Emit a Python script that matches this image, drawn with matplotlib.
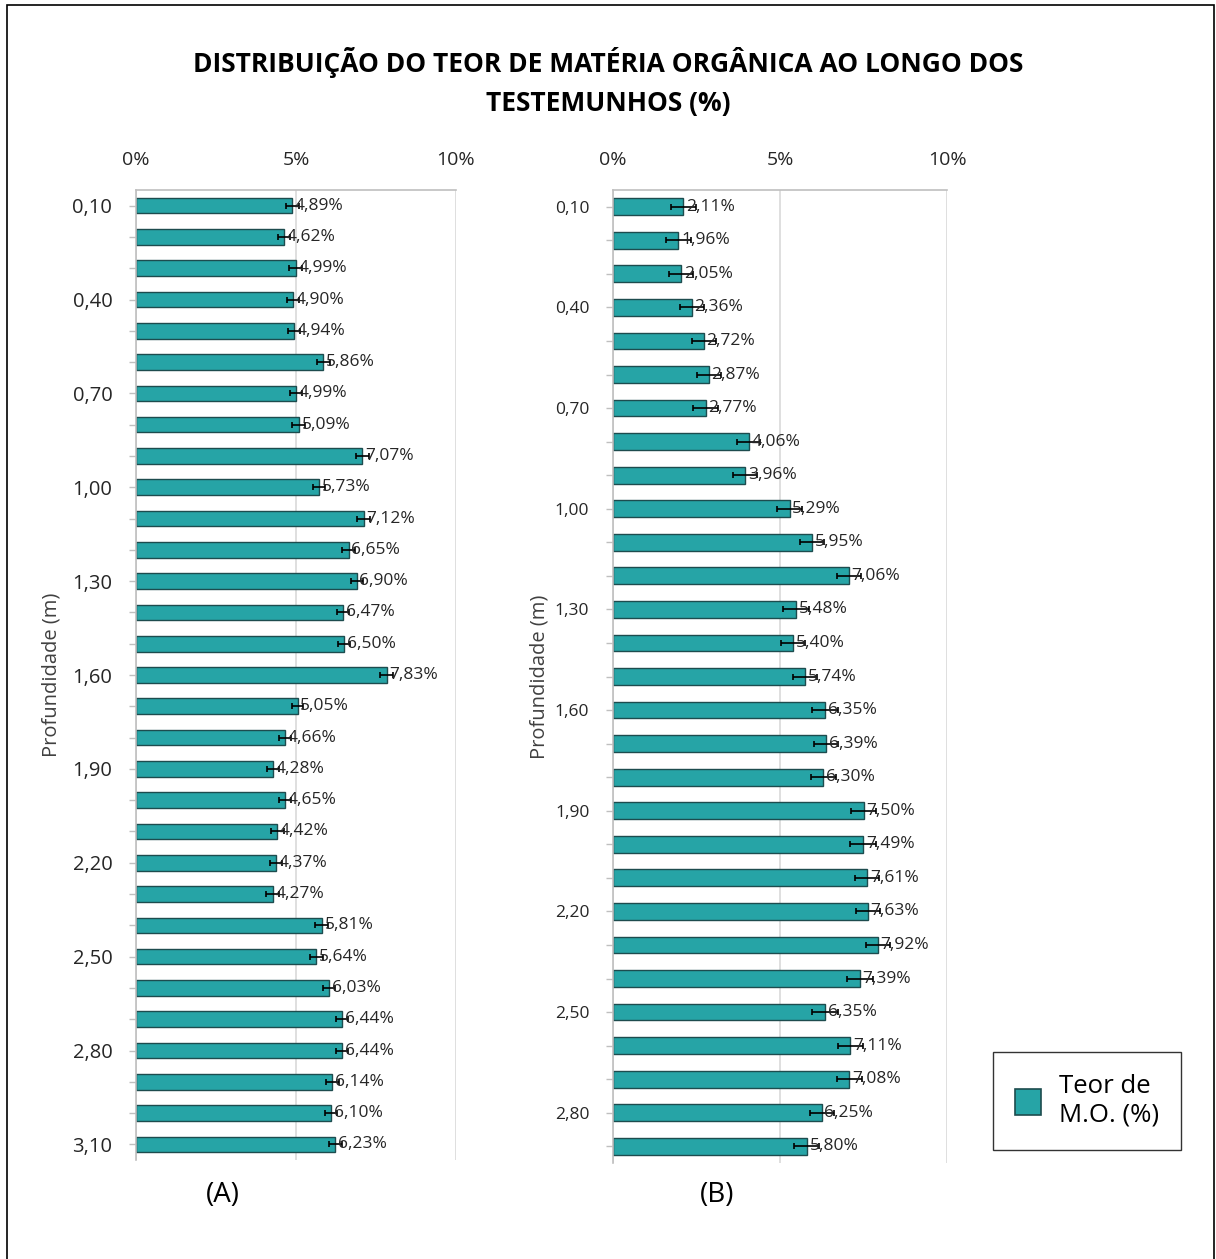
import matplotlib.pyplot as plt
from matplotlib.patches import Rectangle, Patch

plt.rcParams['font.family'] = ['Open Sans', 'DejaVu Sans']

# Testemunho A: 0,10 m a 3,10 m
depth_a = [0.10, 0.20, 0.30, 0.40, 0.50, 0.60, 0.70, 0.80, 0.90, 1.00,
           1.10, 1.20, 1.30, 1.40, 1.50, 1.60, 1.70, 1.80, 1.90, 2.00,
           2.10, 2.20, 2.30, 2.40, 2.50, 2.60, 2.70, 2.80, 2.90, 3.00, 3.10]
mo_a = [4.89, 4.62, 4.99, 4.90, 4.94, 5.86, 4.99, 5.09, 7.07, 5.73,
        7.12, 6.65, 6.90, 6.47, 6.50, 7.83, 5.05, 4.66, 4.28, 4.65,
        4.42, 4.37, 4.27, 5.81, 5.64, 6.03, 6.44, 6.44, 6.14, 6.10, 6.23]
err_a = [0.20, 0.18, 0.20, 0.19, 0.20, 0.20, 0.19, 0.20, 0.20, 0.19,
         0.20, 0.20, 0.19, 0.20, 0.19, 0.20, 0.18, 0.19, 0.20, 0.19,
         0.20, 0.19, 0.20, 0.20, 0.19, 0.20, 0.19, 0.20, 0.20, 0.19, 0.20]

# Testemunho B: 0,10 m a 2,90 m
depth_b = [0.10, 0.20, 0.30, 0.40, 0.50, 0.60, 0.70, 0.80, 0.90, 1.00,
           1.10, 1.20, 1.30, 1.40, 1.50, 1.60, 1.70, 1.80, 1.90, 2.00,
           2.10, 2.20, 2.30, 2.40, 2.50, 2.60, 2.70, 2.80, 2.90]
mo_b = [2.11, 1.96, 2.05, 2.36, 2.72, 2.87, 2.77, 4.06, 3.96, 5.29,
        5.95, 7.06, 5.48, 5.40, 5.74, 6.35, 6.39, 6.30, 7.50, 7.49,
        7.61, 7.63, 7.92, 7.39, 6.35, 7.11, 7.08, 6.25, 5.80]
err_b = [0.38, 0.38, 0.36, 0.35, 0.36, 0.36, 0.38, 0.35, 0.36, 0.38,
         0.36, 0.36, 0.38, 0.36, 0.36, 0.38, 0.36, 0.38, 0.38, 0.38,
         0.36, 0.36, 0.36, 0.38, 0.38, 0.36, 0.36, 0.36, 0.38]

x_ticks = [0, 5, 10]
x_tick_labels = ['0%', '5%', '10%']

BAR_COLOR = '#26a4a6'
EDGE_COLOR = '#1d4c4e'
GRID_COLOR = '#d9d9d9'
SPINE_COLOR = '#bfbfbf'


def fmt(v):
    return f"{v:.2f}".replace('.', ',')


def draw_core(ax, depths, values, errors, tick_size, label_size, panel, panel_x):
    pos = list(range(len(depths)))
    ax.barh(pos, values, height=0.5, color=BAR_COLOR, edgecolor=EDGE_COLOR,
            linewidth=1.0, zorder=2)
    ax.errorbar(values, pos, xerr=errors, fmt='none', ecolor='black',
                elinewidth=1.2, capsize=2.5, capthick=1.2, zorder=3)
    for p, v in zip(pos, values):
        ax.text(v + 0.08, p, fmt(v) + '%', va='center', ha='left',
                fontsize=label_size, color='#262626', zorder=4)

    ax.set_xlim(0, 10)
    ax.set_ylim(len(depths) - 0.5, -0.5)
    ax.xaxis.tick_top()
    ax.set_xticks(x_ticks)
    ax.set_xticklabels(x_tick_labels, fontsize=14, color='#262626')
    ax.tick_params(axis='x', length=0, pad=15)

    ax.set_yticks(pos)
    ax.set_yticklabels([fmt(d) if i % 3 == 0 else '' for i, d in enumerate(depths)],
                       fontsize=tick_size, color='#262626')
    ax.tick_params(axis='y', length=5, width=1, color=SPINE_COLOR, pad=12)

    ax.grid(axis='x', color=GRID_COLOR, linewidth=1.2, zorder=0)
    ax.set_axisbelow(True)
    for side in ['right', 'bottom']:
        ax.spines[side].set_visible(False)
    for side in ['top', 'left']:
        ax.spines[side].set_color(SPINE_COLOR)
        ax.spines[side].set_linewidth(1.2)

    ax.set_ylabel('Profundidade (m)', fontsize=14.5, color='#404040', labelpad=8)
    fig.text(panel_x, 0.051, panel, fontsize=20, ha='center', va='center')


fig = plt.figure(figsize=(12.16, 12.59), dpi=100)

ax_a = fig.add_axes([0.1118, 0.0786, 0.2632, 0.7705])
draw_core(ax_a, depth_a, mo_a, err_a, 14.5, 12.5, '(A)', 0.183)

ax_b = fig.add_axes([0.5041, 0.0762, 0.2747, 0.7729])
draw_core(ax_b, depth_b, mo_b, err_b, 12.5, 12.5, '(B)', 0.590)
ax_b.yaxis.labelpad = 4

fig.suptitle('DISTRIBUIÇÃO DO TEOR DE MATÉRIA ORGÂNICA AO LONGO DOS\nTESTEMUNHOS (%)',
             fontsize=19, fontweight='bold', y=0.963, linespacing=1.6)

handle = Patch(facecolor=BAR_COLOR, edgecolor=EDGE_COLOR, linewidth=1.2)
fig.legend([handle], ['Teor de\nM.O. (%)'], loc='center',
           bbox_to_anchor=(0.894, 0.1255), fontsize=18.5, frameon=True,
           fancybox=False, edgecolor='black', handlelength=1.0,
           handleheight=1.2, borderpad=0.85, handletextpad=0.7,
           borderaxespad=0)

# moldura externa
fig.patches.append(Rectangle((0.006, -0.01), 0.992, 1.006, transform=fig.transFigure,
                             fill=False, edgecolor='black', linewidth=1.2))

fig.savefig('out.png', dpi=100)
